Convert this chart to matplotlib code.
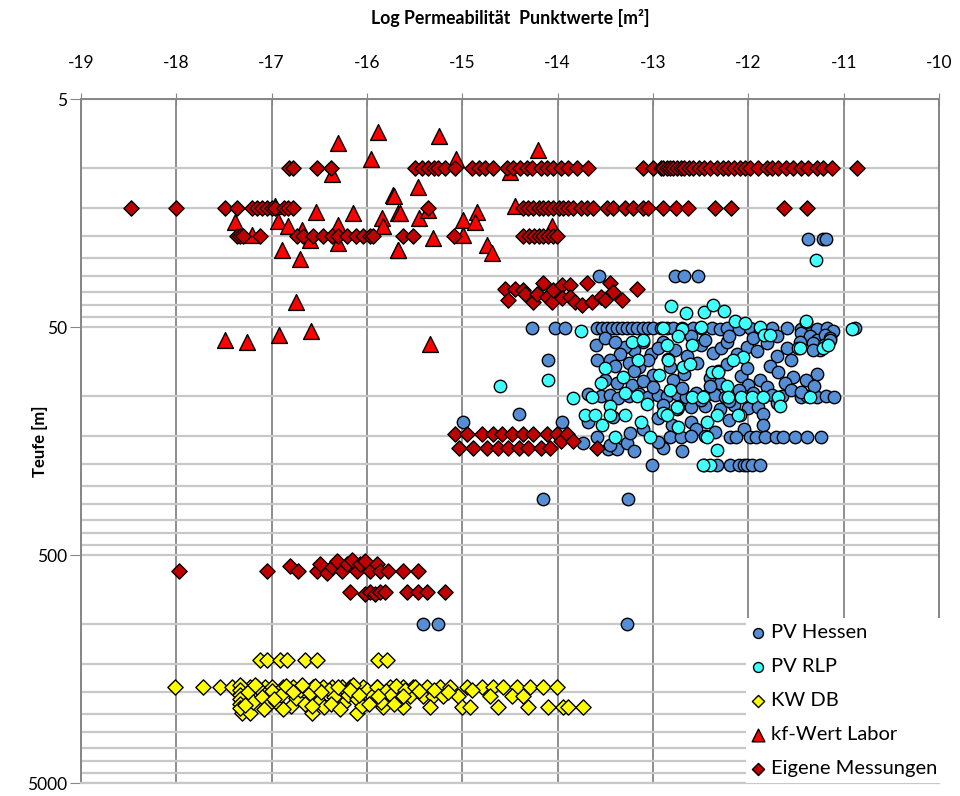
import matplotlib.pyplot as plt
from matplotlib.ticker import FixedLocator, FixedFormatter, NullFormatter

plt.rcParams['font.family'] = ['Lato', 'DejaVu Sans']

# log permeability [m²] and depth [m] per measurement

pv_hessen = [
    (-11.37, 20.5), (-11.22, 20.5), (-11.19, 20.5),
    (-13.57, 30), (-12.77, 30), (-12.67, 30), (-12.53, 30),
    (-14.27, 50.4), (-14.03, 50.4), (-13.92, 50.4), (-13.59, 50.4), (-13.53, 50.4),
    (-13.48, 50.4), (-13.43, 50.4), (-13.38, 50.4), (-13.32, 50.4), (-13.27, 50.4),
    (-13.22, 50.4), (-13.17, 50.4), (-13.11, 50.4), (-13.05, 50.4), (-13.00, 50.4),
    (-12.92, 50.4), (-12.85, 50.4), (-12.79, 50.4), (-12.70, 50.4), (-12.58, 50.4),
    (-12.50, 50.4), (-12.38, 50.4), (-12.30, 51), (-12.22, 50.4), (-12.10, 51),
    (-11.98, 50.4), (-11.88, 52), (-11.75, 50.4), (-11.59, 50.4), (-11.45, 51),
    (-11.38, 50.4), (-11.28, 51), (-11.17, 50.4), (-11.11, 52), (-10.88, 50.4),
    (-11.45, 53), (-11.35, 55), (-11.28, 57), (-11.20, 54), (-11.14, 56),
    (-11.18, 60), (-11.25, 63), (-11.32, 59),
    (-12.89, 58), (-12.77, 63), (-12.64, 67), (-12.50, 60), (-12.37, 65), (-12.29, 62),
    (-12.22, 58), (-12.12, 66), (-12.01, 61), (-11.91, 64), (-11.80, 59), (-11.70, 67),
    (-11.59, 62), (-11.46, 58), (-11.32, 63), (-11.21, 60), (-11.14, 57),
    (-13.20, 63), (-13.10, 58), (-13.02, 66), (-13.29, 61), (-13.60, 60),
    (-13.50, 56), (-13.40, 58), (-13.35, 66), (-13.45, 70), (-13.25, 72), (-13.15, 75),
    (-13.05, 70), (-12.95, 62), (-12.60, 55), (-12.45, 57), (-12.20, 55), (-11.95, 56),
    (-11.70, 55), (-11.55, 70),
    (-12.82, 75), (-12.68, 80), (-12.54, 72), (-12.40, 84), (-12.32, 78), (-12.22, 73),
    (-12.08, 82), (-12.01, 76), (-11.88, 85), (-11.77, 74), (-11.69, 79), (-11.53, 83),
    (-11.28, 80), (-13.00, 81), (-12.79, 85), (-13.20, 78), (-13.40, 74), (-13.59, 70),
    (-14.10, 70), (-13.50, 85), (-13.38, 88), (-13.22, 90), (-13.10, 86), (-12.30, 88),
    (-12.00, 90), (-11.80, 92), (-11.62, 88), (-11.40, 85),
    (-13.68, 98), (-13.55, 100), (-13.45, 99), (-13.37, 102), (-13.25, 100), (-13.15, 98),
    (-13.05, 101), (-12.95, 99), (-12.85, 100), (-12.75, 98), (-12.65, 101), (-12.55, 97),
    (-12.45, 100), (-12.35, 99), (-12.25, 101), (-12.15, 98), (-12.05, 100), (-11.95, 97),
    (-11.85, 101), (-11.75, 99), (-11.65, 100), (-11.55, 94), (-11.45, 101), (-11.38, 100),
    (-11.28, 101), (-11.19, 100), (-11.10, 101), (-13.00, 92), (-12.70, 93), (-12.40, 91),
    (-12.10, 94), (-11.45, 96), (-11.31, 91),
    (-12.90, 110), (-12.75, 114), (-12.60, 112), (-12.45, 111), (-12.30, 115),
    (-12.15, 110), (-12.00, 113), (-11.90, 112), (-12.50, 105), (-12.20, 106), (-11.70, 108),
    (-13.42, 124), (-14.41, 120), (-13.68, 131), (-13.95, 130), (-14.99, 131),
    (-12.95, 125), (-12.60, 130), (-12.20, 128), (-11.85, 120),
    (-12.80, 135), (-12.55, 140), (-12.35, 145), (-12.05, 140), (-11.85, 135), (-13.10, 140),
    (-13.73, 161), (-13.47, 172), (-13.38, 172), (-13.27, 161), (-13.24, 146), (-13.59, 152),
    (-12.89, 169), (-12.82, 152), (-12.71, 152), (-12.60, 150), (-12.45, 150), (-12.19, 152),
    (-12.13, 152), (-11.98, 152), (-11.92, 152), (-11.82, 152), (-11.71, 152), (-11.64, 152),
    (-11.51, 152), (-11.38, 152), (-11.24, 152),
    (-13.45, 165), (-13.20, 175), (-12.95, 160), (-12.70, 175),
    (-13.01, 201), (-12.46, 201), (-12.33, 201), (-12.19, 201), (-12.10, 201), (-12.05, 201),
    (-12.01, 201), (-11.96, 201), (-11.88, 201),
    (-14.15, 285), (-13.26, 285),
    (-15.41, 1000), (-15.26, 1000), (-13.27, 1000),
]

pv_rlp = [
    (-11.29, 25.4), (-14.60, 90.6), (-14.10, 85), (-13.76, 52),
    (-12.81, 40.3), (-12.65, 43.2), (-12.47, 43), (-12.37, 40), (-12.26, 42.5),
    (-11.39, 47.6), (-12.14, 47), (-12.03, 48), (-12.89, 50.4), (-12.70, 51),
    (-12.50, 50), (-11.88, 50), (-11.84, 54), (-11.77, 54), (-11.40, 47), (-11.22, 62),
    (-10.91, 51), (-12.85, 60), (-12.74, 55), (-12.59, 60), (-12.84, 69), (-12.69, 75),
    (-12.61, 73), (-12.38, 79), (-12.32, 79), (-12.06, 68), (-12.16, 70), (-11.48, 62),
    (-11.16, 60), (-12.82, 94), (-12.59, 101), (-12.48, 101), (-12.22, 91), (-12.21, 101),
    (-12.08, 101), (-11.96, 101), (-11.85, 101), (-11.69, 101), (-11.67, 111), (-11.35, 101),
    (-12.89, 119), (-12.74, 112), (-12.33, 122), (-12.09, 122), (-12.43, 131), (-12.43, 152),
    (-12.33, 173), (-12.40, 201), (-12.48, 201), (-13.55, 88), (-13.50, 76), (-13.45, 111),
    (-13.84, 102), (-13.64, 101), (-13.71, 122), (-13.61, 122), (-13.45, 122), (-13.53, 134),
    (-13.40, 152), (-13.29, 122), (-13.29, 97), (-13.17, 100), (-13.13, 131), (-13.06, 109),
    (-13.03, 152), (-13.22, 58), (-13.11, 57), (-13.31, 83), (-13.16, 70), (-12.94, 81),
    (-12.84, 70), (-12.85, 122), (-12.75, 112), (-12.74, 137), (-12.11, 122), (-11.46, 62),
]

kw_db = [
    (-17.12, 1440), (-17.05, 1440), (-16.91, 1440), (-16.84, 1440), (-16.65, 1440),
    (-16.52, 1440), (-15.88, 1440), (-15.79, 1440),
    (-18.01, 1890), (-17.72, 1890), (-17.54, 1890), (-17.42, 1890), (-17.31, 1890),
    (-17.23, 1890), (-17.15, 1890), (-17.07, 1890), (-17.00, 1890), (-16.88, 1890),
    (-16.78, 1890), (-16.67, 1890), (-16.57, 1890), (-16.46, 1890), (-16.37, 1890),
    (-16.26, 1890), (-16.18, 1890), (-16.04, 1890), (-15.89, 1890), (-15.76, 1890),
    (-15.62, 1890), (-15.52, 1890), (-15.37, 1890), (-15.23, 1890), (-15.13, 1890),
    (-14.95, 1890), (-14.79, 1890), (-14.68, 1890), (-14.57, 1890), (-14.43, 1890),
    (-14.29, 1890), (-14.15, 1890), (-14.01, 1890),
    (-15.55, 2085), (-15.41, 2085), (-15.31, 2085), (-15.20, 2085), (-15.05, 2085),
    (-14.71, 2085), (-14.48, 2085), (-14.36, 2085),
    (-15.83, 2310), (-15.62, 2310), (-15.34, 2310), (-15.00, 2310), (-14.92, 2310),
    (-14.63, 2310), (-14.31, 2310), (-14.10, 2310), (-13.94, 2310), (-13.89, 2310),
    (-13.73, 2310),
    (-17.31, 2470), (-17.23, 2470), (-16.58, 2470), (-16.10, 2470),
    (-17.33, 1850), (-17.33, 1950), (-17.33, 2050), (-17.33, 2150), (-17.33, 2250),
    (-17.33, 2350), (-17.25, 2000), (-17.20, 2200), (-17.15, 1900), (-17.10, 2100),
    (-17.05, 2300), (-17.00, 1980), (-16.95, 2200), (-16.90, 2050), (-16.85, 1880),
    (-16.80, 2300), (-16.75, 2120), (-16.70, 1950), (-16.65, 2250), (-16.60, 2020),
    (-16.55, 1870), (-16.50, 2180), (-16.45, 2320), (-16.40, 1960), (-16.35, 2100),
    (-16.30, 1900), (-16.25, 2250), (-16.20, 2050), (-16.15, 1850), (-16.10, 2150),
    (-16.05, 2300), (-16.00, 1950), (-15.95, 2080), (-15.90, 1900), (-15.85, 2200),
    (-15.80, 1980), (-15.75, 2050), (-15.70, 1870), (-15.65, 2150), (-15.60, 1950),
    (-15.50, 1900), (-15.45, 1980), (-15.30, 1950), (-15.15, 2000), (-14.90, 1950),
    (-17.28, 2280), (-17.18, 1860), (-17.08, 2380), (-16.98, 2150), (-16.88, 2380),
    (-16.78, 2000), (-16.68, 1860), (-16.58, 2300), (-16.48, 2000), (-16.38, 2250),
    (-16.28, 2380), (-16.18, 1950), (-16.08, 2050), (-15.98, 2250), (-15.88, 2080),
    (-15.72, 2250), (-15.62, 2080),
]

kf_labor = [
    (-15.88, 6.95), (-16.30, 7.78), (-15.96, 9.14), (-16.37, 10.7), (-15.73, 13.2),
    (-15.67, 15.8), (-16.53, 15.6), (-16.15, 15.8), (-17.38, 17.4), (-16.93, 17.1),
    (-16.83, 18.1), (-16.68, 18.7), (-16.30, 17.9), (-15.84, 16.6), (-15.83, 18.1),
    (-17.21, 19.8), (-16.60, 20.7), (-16.30, 21.3), (-16.89, 23.0), (-16.70, 25.1),
    (-15.68, 22.9), (-16.74, 39), (-16.59, 51.9), (-17.49, 56.8), (-17.26, 58),
    (-16.92, 54), (-16.97, 14.8),
    (-15.24, 7.24), (-15.07, 9.2), (-14.21, 8.35), (-14.50, 10.5), (-15.46, 12.1),
    (-15.72, 13.3), (-15.65, 15.8), (-15.45, 16.6), (-15.36, 15.3), (-14.99, 17.0),
    (-14.85, 15.6), (-14.87, 17.4), (-14.99, 19.8), (-15.31, 20.3), (-15.67, 22.9),
    (-14.74, 21.8), (-14.69, 23.6), (-14.45, 14.8), (-14.06, 18.1), (-15.34, 59.6),
]

eigene = [
    # 10 m
    (-16.82, 10), (-16.78, 10), (-16.52, 10), (-16.38, 10),
    (-15.50, 10), (-15.42, 10), (-15.36, 10), (-15.30, 10), (-15.26, 10), (-15.18, 10),
    (-15.08, 10), (-14.90, 10), (-14.83, 10), (-14.76, 10), (-14.68, 10), (-14.53, 10),
    (-14.47, 10), (-14.40, 10), (-14.32, 10), (-14.27, 10), (-14.18, 10), (-14.11, 10),
    (-14.05, 10), (-13.97, 10), (-13.89, 10), (-13.80, 10), (-13.68, 10),
    (-13.11, 10), (-13.00, 10), (-12.92, 10), (-12.89, 10), (-12.85, 10), (-12.82, 10),
    (-12.79, 10), (-12.75, 10), (-12.71, 10), (-12.68, 10), (-12.62, 10), (-12.58, 10),
    (-12.52, 10), (-12.47, 10), (-12.40, 10), (-12.33, 10), (-12.27, 10), (-12.21, 10),
    (-12.15, 10), (-12.09, 10), (-12.03, 10), (-11.98, 10), (-11.90, 10), (-11.80, 10),
    (-11.75, 10), (-11.69, 10), (-11.60, 10), (-11.53, 10), (-11.45, 10), (-11.37, 10),
    (-11.28, 10), (-11.22, 10), (-11.12, 10), (-10.86, 10),
    # 15 m
    (-18.48, 15), (-18.00, 15), (-17.49, 15), (-17.36, 15), (-17.21, 15), (-17.15, 15),
    (-17.10, 15), (-17.05, 15), (-17.00, 15), (-16.96, 15), (-16.87, 15), (-16.83, 15),
    (-16.78, 15), (-15.36, 15), (-14.36, 15), (-14.31, 15), (-14.26, 15), (-14.20, 15),
    (-14.15, 15), (-14.10, 15), (-14.05, 15), (-13.99, 15), (-13.94, 15), (-13.89, 15),
    (-13.84, 15), (-13.76, 15), (-13.69, 15), (-13.63, 15), (-13.48, 15), (-13.42, 15),
    (-13.29, 15), (-13.21, 15), (-13.10, 15), (-13.05, 15), (-12.89, 15), (-12.76, 15),
    (-12.63, 15), (-12.35, 15), (-12.18, 15), (-11.63, 15), (-11.38, 15),
    # 20 m
    (-17.36, 20), (-17.33, 20), (-17.30, 20), (-17.12, 20), (-16.73, 20), (-16.67, 20),
    (-16.57, 20), (-16.46, 20), (-16.37, 20), (-16.30, 20), (-16.21, 20), (-16.12, 20),
    (-16.04, 20), (-15.97, 20), (-15.94, 20), (-15.62, 20), (-15.52, 20), (-15.09, 20),
    (-14.36, 20), (-14.30, 20), (-14.25, 20), (-14.20, 20), (-14.15, 20), (-14.10, 20),
    (-14.05, 20), (-14.01, 20),
    # 32-40 m
    (-14.55, 34), (-14.52, 38), (-14.45, 34), (-14.36, 34.3), (-14.34, 36), (-14.26, 39),
    (-14.22, 36), (-14.15, 32), (-14.11, 36.8), (-14.06, 39), (-14.05, 34.3), (-13.95, 32.6),
    (-13.95, 37.2), (-13.87, 32.6), (-13.87, 36.8), (-13.82, 39), (-13.74, 40), (-13.69, 32),
    (-13.64, 39), (-13.55, 36.8), (-13.50, 38), (-13.45, 32), (-13.42, 35), (-13.32, 38),
    (-13.17, 34),
    # 150-170 m
    (-15.08, 148), (-15.04, 169), (-14.95, 148), (-14.89, 169), (-14.79, 148), (-14.74, 169),
    (-14.68, 148), (-14.63, 169), (-14.58, 148), (-14.52, 169), (-14.48, 148), (-14.41, 169),
    (-14.36, 148), (-14.31, 169), (-14.26, 148), (-14.18, 169), (-14.11, 148), (-14.08, 169),
    (-14.01, 148), (-13.97, 158), (-13.90, 148), (-13.84, 158), (-13.59, 169),
    # 520-600 m
    (-17.97, 585), (-17.05, 585), (-16.81, 560), (-16.72, 585), (-16.52, 585), (-16.49, 550),
    (-16.42, 600), (-16.37, 565), (-16.31, 530), (-16.26, 585), (-16.21, 550), (-16.16, 524),
    (-16.10, 585), (-16.07, 550), (-16.02, 530), (-15.97, 585), (-15.89, 550), (-15.86, 585),
    (-15.78, 585), (-15.62, 585), (-15.47, 585),
    # 720 m
    (-16.18, 724), (-16.02, 740), (-15.97, 724), (-15.92, 740), (-15.86, 724), (-15.81, 724),
    (-15.58, 724), (-15.47, 724), (-15.37, 724), (-15.18, 724),
]

series = [
    ("PV Hessen", pv_hessen, "o", "#558ED5", 80),
    ("PV RLP", pv_rlp, "o", "#3FFFFF", 80),
    ("KW DB", kw_db, "D", "#FFFF00", 60),
    ("kf-Wert Labor", kf_labor, "^", "#FF0000", 130),
    ("Eigene Messungen", eigene, "D", "#C00000", 60),
]

x_ticks = [-19, -18, -17, -16, -15, -14, -13, -12, -11, -10]
x_tick_labels = [str(v) for v in x_ticks]
y_major = [5, 50, 500, 5000]
y_major_labels = ["5", "50", "500", "5000"]
y_minor = [m * 5 * 10 ** e for e in range(3) for m in range(2, 10)]

fig = plt.figure(figsize=(9.6, 7.96), dpi=100)
ax = fig.add_axes([81 / 960, 13 / 796, 858 / 960, 684 / 796])

for name, pts, marker, color, size in series:
    xs = [p[0] for p in pts]
    zs = [p[1] for p in pts]
    ax.scatter(xs, zs, s=size, marker=marker, facecolor=color, edgecolor="black",
               linewidth=1.0, label=name, zorder=3)

ax.set_yscale("log")
ax.set_xlim(-19, -10)
ax.set_ylim(5000, 5)

ax.xaxis.tick_top()
ax.set_xticks(x_ticks)
ax.set_xticklabels(x_tick_labels, fontsize=12.5)
ax.tick_params(axis="x", direction="inout", length=8, color="#868686", pad=16)

ax.yaxis.set_major_locator(FixedLocator(y_major))
ax.yaxis.set_major_formatter(FixedFormatter(y_major_labels))
ax.yaxis.set_minor_locator(FixedLocator(y_minor))
ax.yaxis.set_minor_formatter(NullFormatter())
ax.tick_params(axis="y", which="major", direction="out", length=8, color="#868686",
               pad=2, labelsize=12.5)
ax.tick_params(axis="y", which="minor", length=0)

ax.set_axisbelow(True)
ax.grid(axis="x", which="major", color="#868686", linewidth=1.3)
ax.grid(axis="y", which="both", color="#C8C8C8", linewidth=1.6)

for side in ("top", "left", "right"):
    ax.spines[side].set_color("#868686")
    ax.spines[side].set_linewidth(1.4)
ax.spines["bottom"].set_color("#C8C8C8")
ax.spines["bottom"].set_linewidth(1.6)

fig.text(510 / 960, 1 - 18 / 796, "Log Permeabilität  Punktwerte [m²]", ha="center",
         va="center", fontsize=12.8, fontweight="bold")
fig.text(40 / 960, 1 - 441 / 796, "Teufe [m]", ha="center", va="center", rotation=90,
         fontsize=12, fontweight="bold")

leg = ax.legend(loc="lower right", bbox_to_anchor=(1.005, 0.0), frameon=True,
                fancybox=False, edgecolor="none", framealpha=1, facecolor="white",
                fontsize=14.5, markerscale=0.8, handlelength=0.6, handletextpad=0.35,
                labelspacing=0.84, borderpad=0.3, borderaxespad=0.0)

fig.savefig("out.png", dpi=100)
